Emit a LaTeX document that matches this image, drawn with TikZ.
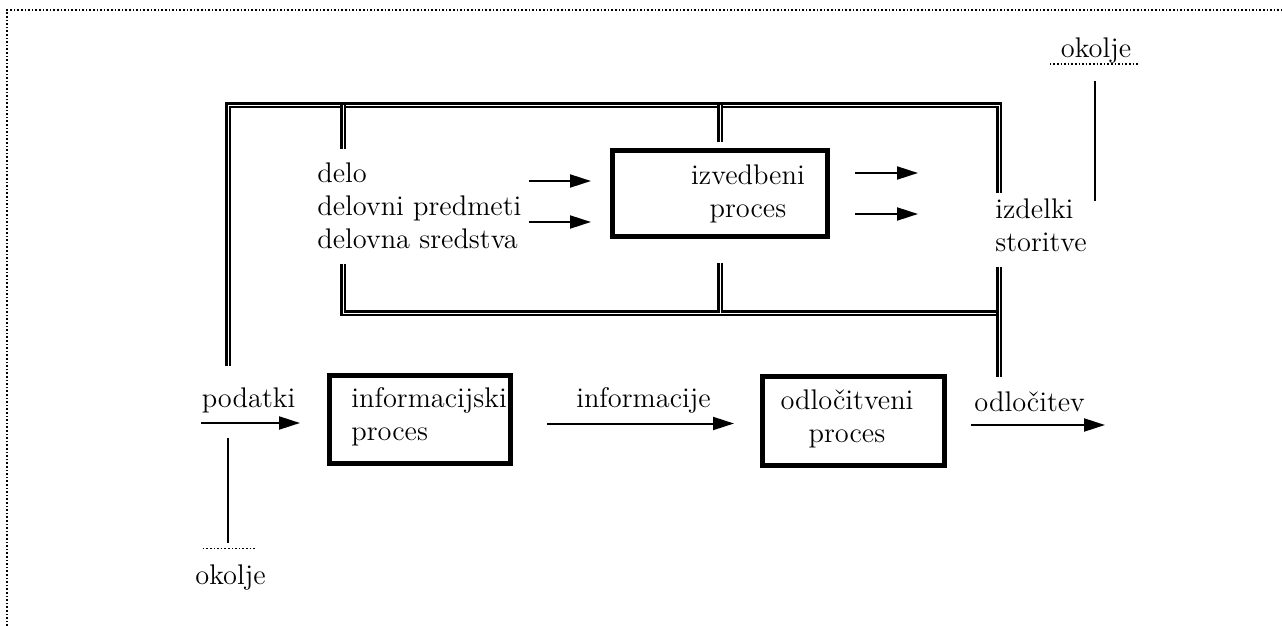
\documentclass[tikz,border=0pt]{standalone}
\usepackage{fontspec}
\usetikzlibrary{arrows.meta}

\tikzset{
  procbox/.style={draw, line width=2.5pt, inner sep=0pt},
  txt/.style={inner sep=0pt, font=\fontsize{14.2pt}{16.5pt}\selectfont},
  flow/.style={line width=1pt, -{Triangle[length=10.5pt,width=6.5pt]}},
  feedback/.style={double, line width=1.1pt, double distance=0.4pt},
  okline/.style={line width=0.8pt},
  dotframe/.style={line width=0.8pt, dash pattern=on 0.8pt off 1pt},
}

\begin{document}
\begin{tikzpicture}[x=0.5pt, y=-0.5pt]
    \useasboundingbox (0,0) rectangle (1282,626);
    \draw[dotframe] (7,626) -- (7,10) -- (1282,10);

    % procesi
    \node[procbox, minimum width=107.5pt, minimum height=43pt] (izv) at (720,193.5) {};
    \node[procbox, minimum width=90.5pt, minimum height=44pt] (inf) at (420,419.5) {};
    \node[procbox, minimum width=91pt, minimum height=44.5pt] (odl) at (853.5,421) {};

    % besedila
    \node[txt, align=left, anchor=west] (delo) at (317,206) {delo\\delovni predmeti\\delovna sredstva};
    \node[txt, align=center] (izvT) at (748,194) {izvedbeni\\proces};
    \node[txt, align=left, anchor=west] (izd) at (995,225) {izdelki\\storitve};
    \node[txt, anchor=base] (okT) at (1096,58) {okolje};
    \node[txt, anchor=base] (okB) at (230.5,584) {okolje};
    \node[txt, anchor=base] (pod) at (248.5,408) {podatki};
    \node[txt, align=left, anchor=west] (infT) at (351,417) {informacijski\\proces};
    \node[txt, anchor=base] (infm) at (643.5,408) {informacije};
    \node[txt, align=center] (odlT) at (847,419) {odločitveni\\proces};
    \node[txt, anchor=base west] (odv) at (974,411) {odločitev};

    % tocke
    \coordinate (tl) at (228,105);
    \coordinate (tr) at (999,105);
    \coordinate (bl) at (343,313);
    \coordinate (br) at (999,313);
    \coordinate (podIn) at (201,423);
    \coordinate (odlOut) at (1105,425);
    \coordinate (inA) at (529,181);
    \coordinate (inB) at (529,222);
    \coordinate (outA) at (918,173);
    \coordinate (outB) at (918,214);
    \coordinate (okTend) at (1095,201);

    % povratne zanke
    \draw[feedback, shorten <=11pt, shorten >=2.5pt] (tl |- pod.north) -- (tl) -- (tr) -- (tr |- izd.north);
    \draw[feedback, shorten >=7pt] (bl |- tl) -- (bl |- delo.north);
    \draw[feedback, shorten >=3pt] (izv.north |- tl) -- (izv.north);
    \draw[feedback, shorten <=7.5pt] (bl |- delo.south) -- (bl) -- (br);
    \draw[feedback, shorten <=12pt] (izv.south) -- (izv.south |- bl);
    \draw[feedback, shorten <=7.5pt, shorten >=7pt] (br |- izd.south) -- (br |- odv.north);

    % tokovi
    \draw[flow, shorten >=9.5pt] (inA) -- (inA -| izv.west);
    \draw[flow, shorten >=9.5pt] (inB) -- (inB -| izv.west);
    \draw[flow, shorten <=12.5pt] (outA -| izv.east) -- (outA);
    \draw[flow, shorten <=12.5pt] (outB -| izv.east) -- (outB);
    \draw[flow, shorten >=13.5pt] (podIn) -- (podIn -| inf.west);
    \draw[flow, shorten <=17pt, shorten >=13pt] ([yshift=-2pt]inf.east) -- ([yshift=-2pt]inf.east -| odl.west);
    \draw[flow, shorten <=12pt] (odlOut -| odl.east) -- (odlOut);

    % okolje
    \draw[okline, shorten <=8.6pt] (okTend |- okT.south) -- (okTend);
    \draw[okline, shorten <=10.5pt, shorten >=7.5pt] (tl |- okB.north) -- (tl |- podIn);
    \draw[dotframe] ([xshift=-5.3pt]okT.south west) -- ([xshift=3.9pt]okT.south east);
    \draw[dotframe] ([xshift=3.9pt, yshift=7.6pt]okB.north west) -- ([xshift=-5.4pt, yshift=7.6pt]okB.north east);
\end{tikzpicture}
\end{document}
